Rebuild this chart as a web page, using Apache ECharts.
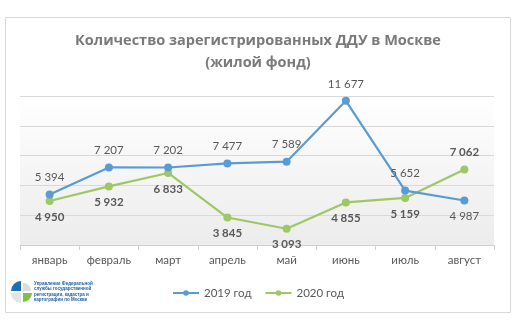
<!DOCTYPE html>
<html>
<head>
<meta charset="utf-8">
<script src="https://cdn.jsdelivr.net/npm/echarts@6/dist/echarts.min.js"></script>
<style>
html,body{margin:0;padding:0;background:#fff;}
#chart{width:516px;height:329px;}
</style>
</head>
<body>
<div id="chart"></div>
<script>
// Months shown on the category axis
const months = ['январь', 'февраль', 'март', 'апрель', 'май', 'июнь', 'июль', 'август'];
// Registered shared-construction contracts (ДДУ), housing stock
const values2019 = [5394, 7207, 7202, 7477, 7589, 11677, 5652, 4987];
const values2020 = [4950, 5932, 6833, 3845, 3093, 4855, 5159, 7062];
const seriesNames = ['2019 год', '2020 год'];
// Value label placement per point
const labelPos2019 = ['top', 'top', 'top', 'top', 'top', 'top', 'top', 'bottom'];
const labelPos2020 = ['bottom', 'bottom', 'bottom', 'bottom', 'bottom', 'bottom', 'bottom', 'top'];

const titleFont = '"Open Sans", "Noto Sans", sans-serif';
const bodyFont = 'Lato, "Open Sans", sans-serif';
const txt = '#595959';
const blue = '#5b9bd5';
const green = '#9dc865';

function fmt(v) {
  return String(v).replace(/\B(?=(\d{3})+(?!\d))/g, ' ');
}

function buildData(values, positions, bold) {
  return values.map((v, i) => ({
    value: v,
    label: {
      position: positions[i],
      distance: positions[i] === 'top' ? 7 : 6,
      fontWeight: bold ? 'bold' : 'normal'
    }
  }));
}

const chart = echarts.init(document.getElementById('chart'), null, { renderer: 'canvas' });

chart.setOption({
  animation: false,
  textStyle: { fontFamily: bodyFont },
  title: {
    text: 'Количество зарегистрированных ДДУ в Москве\n(жилой фонд)',
    left: 'center',
    top: 25,
    textStyle: {
      fontFamily: titleFont,
      fontSize: 14.5,
      fontWeight: 'bold',
      color: '#7a7a7a',
      lineHeight: 22
    }
  },
  legend: {
    top: 282,
    left: 'center',
    itemWidth: 26,
    itemHeight: 7,
    itemGap: 13,
    textStyle: { color: txt, fontSize: 11.5, fontFamily: bodyFont },
    data: seriesNames
  },
  grid: {
    left: 20,
    right: 22,
    top: 96,
    bottom: 84,
    show: true,
    borderWidth: 0,
    backgroundColor: {
      type: 'linear', x: 0, y: 0, x2: 0, y2: 1,
      colorStops: [
        { offset: 0, color: '#ffffff' },
        { offset: 1, color: '#ececec' }
      ]
    }
  },
  xAxis: {
    type: 'category',
    data: months,
    boundaryGap: true,
    axisLine: { lineStyle: { color: '#d0d0d0' } },
    axisTick: { show: true, length: 5, lineStyle: { color: '#d0d0d0' } },
    axisLabel: { color: txt, fontSize: 11.5, margin: 9, interval: 0, fontFamily: bodyFont }
  },
  yAxis: {
    type: 'value',
    min: 2000,
    max: 12000,
    interval: 2000,
    axisLabel: { show: false },
    axisLine: { show: false },
    axisTick: { show: false },
    splitLine: { lineStyle: { color: '#d9d9d9' } }
  },
  series: [
    {
      name: seriesNames[0],
      type: 'line',
      data: buildData(values2019, labelPos2019, false),
      color: blue,
      symbol: 'circle',
      symbolSize: 8,
      lineStyle: { width: 2.2, color: blue },
      itemStyle: { color: blue },
      label: {
        show: true,
        color: txt,
        fontSize: 11.5,
        fontFamily: bodyFont,
        formatter: p => fmt(p.value)
      },
      z: 3
    },
    {
      name: seriesNames[1],
      type: 'line',
      data: buildData(values2020, labelPos2020, true),
      color: green,
      symbol: 'circle',
      symbolSize: 8,
      lineStyle: { width: 2.2, color: green },
      itemStyle: { color: green },
      label: {
        show: true,
        color: txt,
        fontSize: 11.5,
        fontFamily: bodyFont,
        formatter: p => fmt(p.value)
      },
      z: 2
    }
  ],
  graphic: [
    {
      type: 'rect',
      shape: { x: 5.5, y: 17.5, width: 505, height: 295 },
      style: { fill: null, stroke: '#d9d9d9', lineWidth: 1 },
      silent: true
    },
    {
      type: 'group',
      left: 11,
      top: 281,
      children: [
        { type: 'sector', shape: { cx: 10, cy: 12, r: 10, r0: 0, startAngle: Math.PI, endAngle: Math.PI * 1.5 }, style: { fill: '#1f6fb5' } },
        { type: 'sector', shape: { cx: 12, cy: 12, r: 8, r0: 0, startAngle: Math.PI * 1.5, endAngle: Math.PI * 2 }, style: { fill: '#dcdcdc' } },
        { type: 'sector', shape: { cx: 12, cy: 14, r: 9, r0: 0, startAngle: 0, endAngle: Math.PI * 0.5 }, style: { fill: '#7cc14a' } },
        { type: 'sector', shape: { cx: 10, cy: 14, r: 10, r0: 0, startAngle: Math.PI * 0.5, endAngle: Math.PI }, style: { fill: '#e4e4e4' } },
        {
          type: 'text',
          left: 23,
          top: 2,
          style: {
            text: 'Управление Федеральной\nслужбы государственной\nрегистрации, кадастра и\nкартографии по Москве',
            fill: '#1f5fa5',
            font: 'bold 4.5px "Liberation Sans", sans-serif',
            lineHeight: 5.5
          }
        }
      ]
    }
  ]
});
</script>
</body>
</html>
